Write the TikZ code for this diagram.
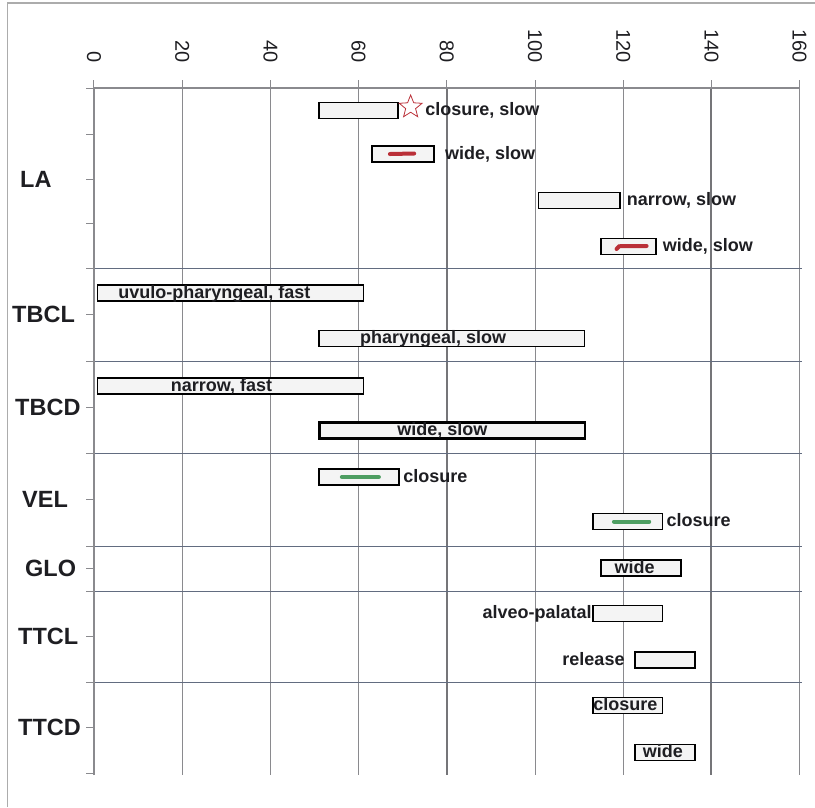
\documentclass[tikz,border=0pt]{standalone}
\usepackage{fontspec}
\setmainfont{Liberation Sans}
\usetikzlibrary{positioning,shapes.geometric}

\definecolor{gridgray}{RGB}{138,138,142}
\definecolor{rowline}{RGB}{98,108,128}
\definecolor{framegray}{RGB}{172,172,172}
\definecolor{barfill}{RGB}{244,244,244}
\definecolor{gestred}{RGB}{186,48,56}
\definecolor{gestgreen}{RGB}{78,158,98}
\definecolor{inkc}{RGB}{30,30,34}

\tikzset{
  gbox/.style={draw=black, line width=1.8pt, fill=barfill, minimum height=16pt, inner sep=0pt, anchor=west},
  dur/.style={minimum width={#1*4.41pt}},
  glab/.style={font=\bfseries\fontsize{18}{18}\selectfont, text=inkc, inner sep=0pt, text height=13pt, text depth=3pt},
  tier/.style={font=\bfseries\fontsize{23.5}{24}\selectfont, text=inkc, inner sep=0pt, anchor=west},
  tnum/.style={font=\fontsize{20}{20}\selectfont, text=inkc, rotate=-90, anchor=east, inner sep=0pt},
  gmark/.style={line width=4pt, line cap=round}
}

\begin{document}
\begin{tikzpicture}[x=4.41pt, y=-1pt]
    \useasboundingbox (-21.315,0) rectangle (163.49,807);
    % frame, cut by the page
    \draw[framegray, line width=1.2pt] (-19.7,807) -- (-19.7,3) -- (163.49,3);

    % Grid
    \foreach \t in {20,40,60,100,120,160}
        \draw[gridgray, line width=1pt] (\t,88) -- (\t,775);
    \foreach \t in {80,140}
        \draw[gridgray!85!black, line width=2pt] (\t,88) -- (\t,775);
    \foreach \r in {268,361,453,546,591,682}
        \draw[rowline, line width=1pt] (0,\r) -- (160.5,\r);

    % Axes
    \draw[gridgray, line width=1.2pt] (0,775) -- (0,88) -- (160,88);
    \foreach \t in {0,20,...,160} {
        \draw[gridgray, line width=1pt] (\t,88) -- (\t,80);
        \node[tnum] (n\t) at (\t,63) {\t};
    }
    \foreach \r in {88,134.5,179,223.5,268,314.5,361,407,453,499.5,546,568.5,591,636.5,682,727.5,773}
        \draw[gridgray, line width=1pt] (-1.8,\r) -- (0,\r);

    % Tiers
    \node[tier] (la) at (-16.78,179) {LA};
    \node[tier] (tbcl) at (-18.59,314.5) {TBCL};
    \node[tier] (tbcd) at (-17.91,407) {TBCD};
    \node[tier] (vel) at (-16.33,499.5) {VEL};
    \node[tier] (glo) at (-15.65,568.5) {GLO};
    \node[tier] (ttcl) at (-17.23,636.5) {TTCL};
    \node[tier] (ttcd) at (-17.23,727.5) {TTCD};

    % LA
    \node[gbox, dur=18] (la1) at (50.8,110.5) {};
    \node[draw=gestred, line width=0.8pt, star, star points=5, star point ratio=2.3, minimum size=24pt, inner sep=0pt] (la1s) at (71.8,107) {};
    \node[glab, anchor=west] (la1t) at (75.1,110.5) {closure, slow};
    \node[gbox, dur=14.1] (la2) at (62.8,154) {};
    \draw[gestred, gmark] (67.1,154) -- (72.6,153.5);
    \node[glab, right=10pt of la2] (la2t) {wide, slow};
    \node[gbox, dur=18.4] (la3) at (100.6,200.5) {};
    \node[glab, right=6pt of la3] (la3t) {narrow, slow};
    \node[gbox, dur=12.5] (la4) at (114.7,246.5) {};
    \draw[gestred, gmark] (118.5,249) .. controls (118.9,246) .. (120.5,246) -- (125.3,246);
    \node[glab, right=6pt of la4] (la4t) {wide, slow};

    % TBCL
    \node[gbox, dur=60.3] (tbcl1) at (0.6,293) {};
    \node[glab] (tbcl1t) at (27.3,293) {uvulo-pharyngeal, fast};
    \node[gbox, dur=60.1] (tbcl2) at (50.9,338.5) {};
    \node[glab] (tbcl2t) at (76.9,338.5) {pharyngeal, slow};

    % TBCD
    \node[gbox, dur=60.3] (tbcd1) at (0.6,386) {};
    \node[glab] (tbcd1t) at (28.9,386) {narrow, fast};
    \node[gbox, dur=60.1, line width=2.4pt] (tbcd2) at (50.9,430.5) {};
    \node[glab] (tbcd2t) at (79,430.5) {wide, slow};

    % VEL
    \node[gbox, dur=18.2] (vel1) at (50.8,477) {};
    \draw[gestgreen, gmark] (56.2,477) -- (64.6,477);
    \node[glab, right=3pt of vel1] (vel1t) {closure};
    \node[gbox, dur=15.7] (vel2) at (113,521.5) {};
    \draw[gestgreen, gmark] (117.9,521.5) -- (125.9,521.5);
    \node[glab, right=3pt of vel2] (vel2t) {closure};

    % GLO
    \node[gbox, dur=18.2] (glo1) at (114.7,568) {};
    \node[glab] (glo1t) at (122.6,568) {wide};

    % TTCL
    \node[gbox, dur=15.7] (ttcl1) at (113,613.5) {};
    \node[glab, left=0.5pt of ttcl1] (ttcl1t) {alveo-palatal};
    \node[gbox, dur=13.6] (ttcl2) at (122.5,660) {};
    \node[glab, left=9.5pt of ttcl2] (ttcl2t) {release};

    % TTCD
    \node[gbox, dur=15.7] (ttcd1) at (113,705.5) {};
    \node[glab] (ttcd1t) at (120.5,705.5) {closure};
    \node[gbox, dur=13.6] (ttcd2) at (122.5,752.5) {};
    \node[glab] (ttcd2t) at (129,752.5) {wide};
\end{tikzpicture}
\end{document}
